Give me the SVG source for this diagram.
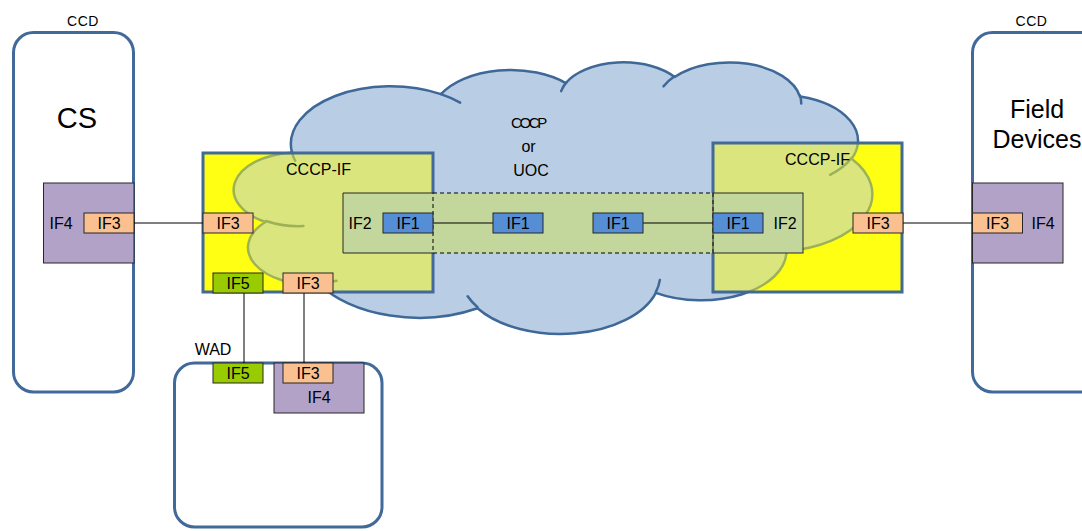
<svg xmlns="http://www.w3.org/2000/svg" xmlns:xlink="http://www.w3.org/1999/xlink" width="1082" height="531" viewBox="0 0 1082 531">
  <style>
    text { font-family: "Liberation Sans", Arial, sans-serif; fill: #000; }
    .lbl { font-size: 16px; text-anchor: middle; }
    .ccd { font-size: 14px; text-anchor: middle; letter-spacing: 0.5px; }
    .container { fill: #fff; stroke: #41699a; stroke-width: 3; }
    .cccp { fill: #ffff14; }
    .cccp-border { fill: none; stroke: #41699a; stroke-width: 3; }
    .port { stroke: #262626; stroke-width: 1; }
    .if1 { fill: #558ed5; }
    .if2 { fill: #c3d69b; }
    .if3 { fill: #fac090; }
    .if4 { fill: #b3a2c7; }
    .if5 { fill: #99cc00; }
    .wire { fill: none; stroke: #000; stroke-width: 1; }
    .solid { fill: none; stroke: #262626; stroke-width: 1; }
    .dash { fill: none; stroke: #000; stroke-width: 1; stroke-dasharray: 4 3; }
    .cloud-body { fill: #b9cde5; stroke: #3e6898; stroke-width: 2.5; stroke-linejoin: round; vector-effect: non-scaling-stroke; }
    .cloud-arc { fill: none; stroke: #3e6898; stroke-width: 2.5; stroke-linecap: round; vector-effect: non-scaling-stroke; }
  </style>
  <defs>
    <!-- cloud outline in a 43200 x 43200 unit box, scaled to its frame -->
    <g id="cloud-shape" transform="translate(234.2 61.5) scale(0.014766 0.006285)">
      <path class="cloud-body" d="M3900 14370 A6753 9190 0 0 1 14004 5200 A5333 7267 0 0 1 22454 3430 A4365 5945 0 0 1 29831 2479 A4857 6595 0 0 1 38316 5571 A5333 7273 0 0 1 41816 15457 A6775 9220 0 0 1 37402 30199 A5785 7867 0 0 1 28553 36809 A6752 9215 0 0 1 16477 39260 A7720 10543 0 0 1 5804 35466 A4360 5918 0 0 1 2113 25543 A4345 5945 0 0 1 3864 14500 Z"/>
      <path class="cloud-arc" d="M4693 26177 A4345 5945 0 0 1 2159 25379 M6928 34899 A4360 5918 0 0 1 5819 35281 M16478 39090 A6752 9215 0 0 1 15811 37350 M28827 34751 A6752 9215 0 0 1 28560 36660 M34129 22954 A5785 7867 0 0 1 37380 30026 M41798 15354 A5333 7273 0 0 1 40351 18028 M38324 5426 A4857 6595 0 0 1 38401 6691 M29078 3952 A4857 6595 0 0 1 29820 2340 M22141 4720 A4365 5945 0 0 1 22500 3331 M14000 5192 A6753 9190 0 0 1 15301 6542 M4127 15789 A6753 9190 0 0 1 3900 14370"/>
    </g>
    <clipPath id="clip-if-left"><rect x="203" y="153" width="230" height="139"/></clipPath>
    <clipPath id="clip-if-right"><rect x="713" y="143" width="189" height="149"/></clipPath>
  </defs>

  <!-- left CCD: CS -->
  <g id="ccd-cs">
    <text class="ccd" x="83" y="25.5">CCD</text>
    <rect class="container" x="13.5" y="32.5" width="120" height="359.5" rx="20"/>
    <text x="77" y="128" font-size="29" text-anchor="middle">CS</text>
    <rect class="if4 port" x="43.5" y="183" width="90.5" height="80"/>
    <text class="lbl" x="61" y="229">IF4</text>
    <rect class="if3 port" x="84" y="213" width="50" height="20"/>
    <text class="lbl" x="109" y="229">IF3</text>
  </g>

  <!-- right CCD: Field Devices -->
  <g id="ccd-field">
    <text class="ccd" x="1031.5" y="25.5">CCD</text>
    <rect class="container" x="972.5" y="32.5" width="130" height="359.5" rx="20"/>
    <text x="1037" y="118" font-size="25" text-anchor="middle">Field</text>
    <text x="1037" y="148" font-size="25" text-anchor="middle">Devices</text>
    <rect class="if4 port" x="972.5" y="183" width="90.5" height="80"/>
    <text class="lbl" x="1043" y="229">IF4</text>
    <rect class="if3 port" x="972.5" y="213" width="50" height="20"/>
    <text class="lbl" x="997.5" y="229">IF3</text>
  </g>

  <!-- WAD -->
  <g id="wad">
    <text class="lbl" x="213" y="355">WAD</text>
    <rect class="container" x="174.5" y="363" width="207.5" height="164" rx="20"/>
    <rect class="if4 port" x="274" y="363" width="90" height="50"/>
    <text class="lbl" x="319" y="403">IF4</text>
    <rect class="if5 port" x="213" y="363" width="50" height="20"/>
    <text class="lbl" x="238" y="379">IF5</text>
    <rect class="if3 port" x="283" y="363" width="50" height="20"/>
    <text class="lbl" x="308" y="379">IF3</text>
  </g>

  <!-- COCP / UOC cloud -->
  <g id="cloud">
    <use xlink:href="#cloud-shape"/>
    <text x="528" y="127.5" font-size="15" text-anchor="middle" letter-spacing="-2.3">COCP</text>
    <text class="lbl" x="528.5" y="151.5">or</text>
    <text class="lbl" x="531" y="176">UOC</text>
  </g>

  <!-- left CCCP interface box -->
  <g id="cccp-if-left">
    <rect class="cccp" x="203" y="153" width="230" height="139"/>
    <g clip-path="url(#clip-if-left)" opacity="0.5"><use xlink:href="#cloud-shape"/></g>
    <rect class="cccp-border" x="203" y="153" width="230" height="139"/>
    <text class="lbl" x="318.5" y="175">CCCP-IF</text>
  </g>

  <!-- right CCCP interface box -->
  <g id="cccp-if-right">
    <rect class="cccp" x="713" y="143" width="189" height="149"/>
    <g clip-path="url(#clip-if-right)" opacity="0.5"><use xlink:href="#cloud-shape"/></g>
    <rect class="cccp-border" x="713" y="143" width="189" height="149"/>
    <text class="lbl" x="817.5" y="164.5">CCCP-IF</text>
  </g>

  <!-- IF2 span between the two interface boxes -->
  <g id="if2-span">
    <rect class="if2" x="343" y="193" width="460" height="60"/>
    <path class="solid" d="M433 193 H343 V253 H433"/>
    <rect class="dash" x="433" y="193" width="280" height="60"/>
    <rect class="solid" x="713" y="193" width="90" height="60"/>
    <text class="lbl" x="360" y="229">IF2</text>
    <text class="lbl" x="785" y="229">IF2</text>
  </g>

  <!-- connectors -->
  <g id="connectors">
    <line class="wire" x1="134" y1="223" x2="203" y2="223"/>
    <line class="wire" x1="903" y1="223" x2="972" y2="223"/>
    <line class="wire" x1="433" y1="223" x2="493" y2="223"/>
    <line class="wire" x1="643" y1="223" x2="713" y2="223"/>
    <line class="wire" x1="244" y1="293" x2="244" y2="363"/>
    <line class="wire" x1="304" y1="293" x2="304" y2="363"/>
  </g>

  <!-- ports on the interface boxes -->
  <g id="port-left-if3">
    <rect class="if3 port" x="203" y="213" width="50" height="20"/>
    <text class="lbl" x="228" y="229">IF3</text>
  </g>
  <g id="port-left-if5">
    <rect class="if5 port" x="213" y="273" width="50" height="20"/>
    <text class="lbl" x="238" y="289">IF5</text>
  </g>
  <g id="port-left-if3-wad">
    <rect class="if3 port" x="283" y="273" width="50" height="20"/>
    <text class="lbl" x="308" y="289">IF3</text>
  </g>
  <g id="port-right-if3">
    <rect class="if3 port" x="853" y="213" width="50" height="20"/>
    <text class="lbl" x="878" y="229">IF3</text>
  </g>

  <!-- IF1 chain -->
  <g id="if1-a">
    <rect class="if1 port" x="383" y="213" width="50" height="20"/>
    <text class="lbl" x="408" y="229">IF1</text>
  </g>
  <g id="if1-b">
    <rect class="if1 port" x="493" y="213" width="50" height="20"/>
    <text class="lbl" x="518" y="229">IF1</text>
  </g>
  <g id="if1-c">
    <rect class="if1 port" x="593" y="213" width="50" height="20"/>
    <text class="lbl" x="618" y="229">IF1</text>
  </g>
  <g id="if1-d">
    <rect class="if1 port" x="713" y="213" width="50" height="20"/>
    <text class="lbl" x="738" y="229">IF1</text>
  </g>
</svg>
